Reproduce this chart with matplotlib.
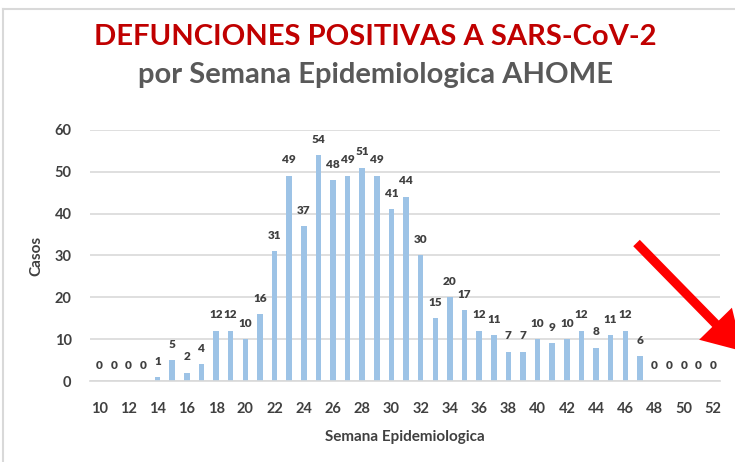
import matplotlib.pyplot as plt
from matplotlib.patches import FancyArrowPatch
from matplotlib.lines import Line2D

# weekly deaths, epidemiological weeks 10..52
weeks = list(range(10, 53))
deaths = [0, 0, 0, 0, 1, 5, 2, 4, 12, 12, 10, 16, 31, 49, 37, 54, 48, 49, 51, 49,
          41, 44, 30, 15, 20, 17, 12, 11, 7, 7, 10, 9, 10, 12, 8, 11, 12, 6,
          0, 0, 0, 0, 0]
xticks = list(range(10, 53, 2))
yticks = [0, 10, 20, 30, 40, 50, 60]

BAR_COLOR = '#9dc3e6'
TEXT_COLOR = '#404040'
FONT = 'Lato'

plt.rcParams['font.family'] = FONT

fig = plt.figure(figsize=(7.35, 4.62), dpi=100)
ax = fig.add_axes([0.122, 0.175, 0.858, 0.544])

ax.bar(weeks, deaths, width=0.38, color=BAR_COLOR, zorder=2)
for w, d in zip(weeks, deaths):
    ax.annotate(str(d), xy=(w, d), xytext=(0, 7.5), textcoords='offset points',
                ha='center', va='bottom', fontsize=8.5, fontweight='heavy',
                color=TEXT_COLOR)

ax.set_xlim(9.35, 52.5)
ax.set_ylim(0, 60)
ax.set_xticks(xticks)
ax.set_yticks(yticks)
ax.tick_params(axis='both', length=0, labelsize=10.5, labelcolor=TEXT_COLOR)
ax.tick_params(axis='x', pad=15)
ax.tick_params(axis='y', pad=13)
for lbl in ax.get_xticklabels() + ax.get_yticklabels():
    lbl.set_fontweight('bold')

ax.grid(axis='y', color='#d9d9d9', linewidth=1.2, zorder=0)
for side in ['top', 'right', 'left']:
    ax.spines[side].set_visible(False)
ax.spines['bottom'].set_color('#d9d9d9')
ax.spines['bottom'].set_linewidth(1.2)

ax.set_xlabel('Semana Epidemiologica', fontsize=11, fontweight='bold',
              color=TEXT_COLOR, labelpad=10)
ax.set_ylabel('Casos', fontsize=11, fontweight='bold', color=TEXT_COLOR, labelpad=8)

fig.text(0.511, 0.92, 'DEFUNCIONES POSITIVAS A SARS-CoV-2', ha='center', va='center',
         fontsize=21, fontweight='bold', color='#c00000')
fig.text(0.511, 0.838, 'por Semana Epidemiologica AHOME', ha='center', va='center',
         fontsize=21, fontweight='bold', color='#595959')

# frame lines of the original slide
fig.add_artist(Line2D([0.004, 1.0], [0.981, 0.981], color='#d9d9d9', linewidth=1.5))
fig.add_artist(Line2D([0.004, 0.004], [0.0, 0.981], color='#d9d9d9', linewidth=1.5))

# red arrow pointing off the lower right corner
arrow = FancyArrowPatch((0.866, 0.474), (1.01, 0.24), transform=fig.transFigure,
                        arrowstyle='simple,head_width=5.5,head_length=4.6,tail_width=1.1',
                        mutation_scale=6, color='#ff0000', linewidth=0,
                        shrinkA=0, shrinkB=0)
fig.add_artist(arrow)

fig.savefig('out.png', dpi=100)
